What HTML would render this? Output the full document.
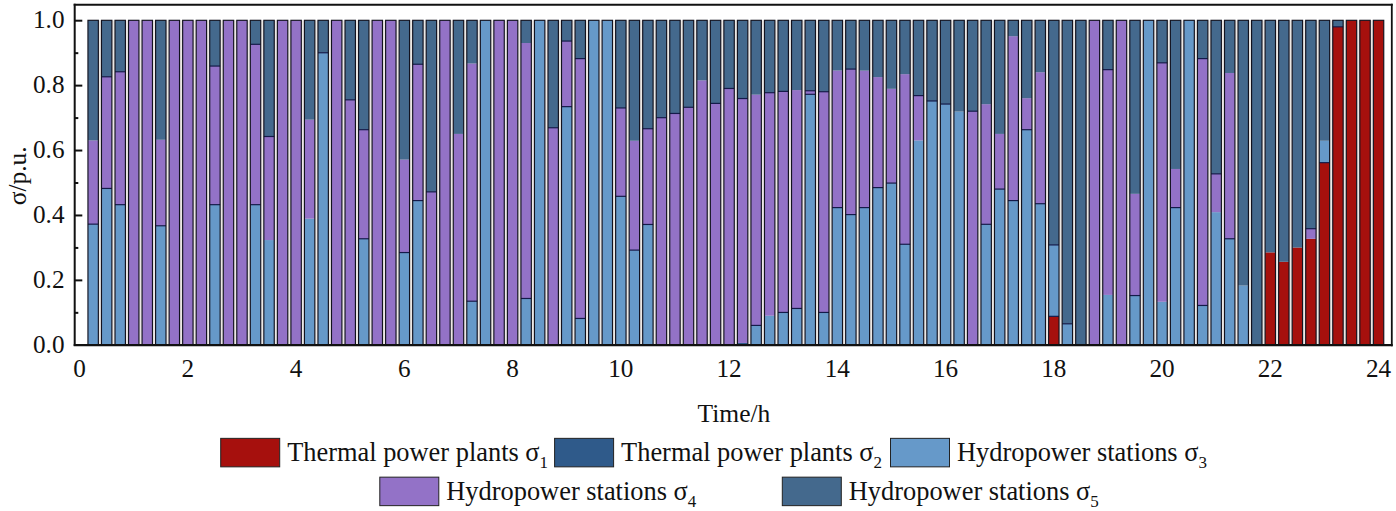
<!DOCTYPE html>
<html><head><meta charset="utf-8"><title>chart</title>
<style>
html,body{margin:0;padding:0;background:#fff;}
svg{display:block}
text{font-family:"Liberation Serif",serif;fill:#111}
.t{font-size:25.2px}
.a{font-size:25.5px}
.l{font-size:26.4px}
</style></head>
<body>
<svg width="1396" height="511" viewBox="0 0 1396 511">
<rect width="1396" height="511" fill="#fff"/>
<g shape-rendering="auto">
<rect x="87.95" y="20.30" width="1295.80" height="324.60" fill="#ebe7e4"/>
<rect x="87.95" y="224.15" width="10.4" height="120.75" fill="#6699c9"/>
<rect x="87.95" y="140.40" width="10.4" height="83.75" fill="#9372c7"/>
<rect x="87.95" y="20.30" width="10.4" height="120.10" fill="#44698d"/>
<line x1="87.95" x2="98.35" y1="224.15" y2="224.15" stroke="#141a4a" stroke-width="1.2"/>
<rect x="87.95" y="20.30" width="10.4" height="324.60" fill="none" stroke="#12121f" stroke-width="1.15" stroke-opacity="1"/>
<rect x="101.48" y="188.44" width="10.4" height="156.46" fill="#6699c9"/>
<rect x="101.48" y="76.78" width="10.4" height="111.66" fill="#9372c7"/>
<rect x="101.48" y="20.30" width="10.4" height="56.48" fill="#44698d"/>
<line x1="101.48" x2="111.88" y1="188.44" y2="188.44" stroke="#141a4a" stroke-width="1.2"/>
<line x1="101.48" x2="111.88" y1="76.78" y2="76.78" stroke="#141a4a" stroke-width="1.2"/>
<rect x="101.48" y="20.30" width="10.4" height="324.60" fill="none" stroke="#12121f" stroke-width="1.15" stroke-opacity="1"/>
<rect x="115.01" y="204.67" width="10.4" height="140.23" fill="#6699c9"/>
<rect x="115.01" y="71.75" width="10.4" height="132.92" fill="#9372c7"/>
<rect x="115.01" y="20.30" width="10.4" height="51.45" fill="#44698d"/>
<line x1="115.01" x2="125.41" y1="204.67" y2="204.67" stroke="#141a4a" stroke-width="1.2"/>
<line x1="115.01" x2="125.41" y1="71.75" y2="71.75" stroke="#141a4a" stroke-width="1.2"/>
<rect x="115.01" y="20.30" width="10.4" height="324.60" fill="none" stroke="#12121f" stroke-width="1.15" stroke-opacity="1"/>
<rect x="128.54" y="20.30" width="10.4" height="324.60" fill="#9372c7"/>
<rect x="128.54" y="20.30" width="10.4" height="324.60" fill="none" stroke="#12121f" stroke-width="1.15" stroke-opacity="1"/>
<rect x="142.07" y="20.30" width="10.4" height="324.60" fill="#9372c7"/>
<rect x="142.07" y="20.30" width="10.4" height="324.60" fill="none" stroke="#12121f" stroke-width="1.15" stroke-opacity="1"/>
<rect x="155.60" y="225.77" width="10.4" height="119.13" fill="#6699c9"/>
<rect x="155.60" y="139.75" width="10.4" height="86.02" fill="#9372c7"/>
<rect x="155.60" y="20.30" width="10.4" height="119.45" fill="#44698d"/>
<line x1="155.60" x2="166.00" y1="225.77" y2="225.77" stroke="#141a4a" stroke-width="1.2"/>
<rect x="155.60" y="20.30" width="10.4" height="324.60" fill="none" stroke="#12121f" stroke-width="1.15" stroke-opacity="1"/>
<rect x="169.13" y="20.30" width="10.4" height="324.60" fill="#9372c7"/>
<rect x="169.13" y="20.30" width="10.4" height="324.60" fill="none" stroke="#12121f" stroke-width="1.15" stroke-opacity="1"/>
<rect x="182.66" y="20.30" width="10.4" height="324.60" fill="#9372c7"/>
<rect x="182.66" y="20.30" width="10.4" height="324.60" fill="none" stroke="#12121f" stroke-width="1.15" stroke-opacity="1"/>
<rect x="196.19" y="20.30" width="10.4" height="324.60" fill="#9372c7"/>
<rect x="196.19" y="20.30" width="10.4" height="324.60" fill="none" stroke="#12121f" stroke-width="1.15" stroke-opacity="1"/>
<rect x="209.73" y="204.67" width="10.4" height="140.23" fill="#6699c9"/>
<rect x="209.73" y="66.07" width="10.4" height="138.60" fill="#9372c7"/>
<rect x="209.73" y="20.30" width="10.4" height="45.77" fill="#44698d"/>
<line x1="209.73" x2="220.13" y1="204.67" y2="204.67" stroke="#141a4a" stroke-width="1.2"/>
<line x1="209.73" x2="220.13" y1="66.07" y2="66.07" stroke="#141a4a" stroke-width="1.2"/>
<rect x="209.73" y="20.30" width="10.4" height="324.60" fill="none" stroke="#12121f" stroke-width="1.15" stroke-opacity="1"/>
<rect x="223.26" y="20.30" width="10.4" height="324.60" fill="#9372c7"/>
<rect x="223.26" y="20.30" width="10.4" height="324.60" fill="none" stroke="#12121f" stroke-width="1.15" stroke-opacity="1"/>
<rect x="236.79" y="20.30" width="10.4" height="324.60" fill="#9372c7"/>
<rect x="236.79" y="20.30" width="10.4" height="324.60" fill="none" stroke="#12121f" stroke-width="1.15" stroke-opacity="1"/>
<rect x="250.32" y="204.67" width="10.4" height="140.23" fill="#6699c9"/>
<rect x="250.32" y="44.32" width="10.4" height="160.35" fill="#9372c7"/>
<rect x="250.32" y="20.30" width="10.4" height="24.02" fill="#44698d"/>
<line x1="250.32" x2="260.72" y1="204.67" y2="204.67" stroke="#141a4a" stroke-width="1.2"/>
<line x1="250.32" x2="260.72" y1="44.32" y2="44.32" stroke="#141a4a" stroke-width="1.2"/>
<rect x="250.32" y="20.30" width="10.4" height="324.60" fill="none" stroke="#12121f" stroke-width="1.15" stroke-opacity="1"/>
<rect x="263.85" y="240.05" width="10.4" height="104.85" fill="#6699c9"/>
<rect x="263.85" y="136.51" width="10.4" height="103.55" fill="#9372c7"/>
<rect x="263.85" y="20.30" width="10.4" height="116.21" fill="#44698d"/>
<line x1="263.85" x2="274.25" y1="136.51" y2="136.51" stroke="#141a4a" stroke-width="1.2"/>
<rect x="263.85" y="20.30" width="10.4" height="324.60" fill="none" stroke="#12121f" stroke-width="1.15" stroke-opacity="1"/>
<rect x="277.38" y="20.30" width="10.4" height="324.60" fill="#9372c7"/>
<rect x="277.38" y="20.30" width="10.4" height="324.60" fill="none" stroke="#12121f" stroke-width="1.15" stroke-opacity="1"/>
<rect x="290.91" y="20.30" width="10.4" height="324.60" fill="#9372c7"/>
<rect x="290.91" y="20.30" width="10.4" height="324.60" fill="none" stroke="#12121f" stroke-width="1.15" stroke-opacity="1"/>
<rect x="304.44" y="218.63" width="10.4" height="126.27" fill="#6699c9"/>
<rect x="304.44" y="119.63" width="10.4" height="99.00" fill="#9372c7"/>
<rect x="304.44" y="20.30" width="10.4" height="99.33" fill="#44698d"/>
<rect x="304.44" y="20.30" width="10.4" height="324.60" fill="none" stroke="#12121f" stroke-width="1.15" stroke-opacity="1"/>
<rect x="317.97" y="52.76" width="10.4" height="292.14" fill="#6699c9"/>
<rect x="317.97" y="20.30" width="10.4" height="32.46" fill="#44698d"/>
<line x1="317.97" x2="328.37" y1="52.76" y2="52.76" stroke="#141a4a" stroke-width="1.2"/>
<rect x="317.97" y="20.30" width="10.4" height="324.60" fill="none" stroke="#12121f" stroke-width="1.15" stroke-opacity="1"/>
<rect x="331.50" y="20.30" width="10.4" height="324.60" fill="#9372c7"/>
<rect x="331.50" y="20.30" width="10.4" height="324.60" fill="none" stroke="#12121f" stroke-width="1.15" stroke-opacity="1"/>
<rect x="345.03" y="99.83" width="10.4" height="245.07" fill="#9372c7"/>
<rect x="345.03" y="20.30" width="10.4" height="79.53" fill="#44698d"/>
<line x1="345.03" x2="355.43" y1="99.83" y2="99.83" stroke="#141a4a" stroke-width="1.2"/>
<rect x="345.03" y="20.30" width="10.4" height="324.60" fill="none" stroke="#12121f" stroke-width="1.15" stroke-opacity="1"/>
<rect x="358.56" y="238.76" width="10.4" height="106.14" fill="#6699c9"/>
<rect x="358.56" y="129.69" width="10.4" height="109.07" fill="#9372c7"/>
<rect x="358.56" y="20.30" width="10.4" height="109.39" fill="#44698d"/>
<line x1="358.56" x2="368.96" y1="238.76" y2="238.76" stroke="#141a4a" stroke-width="1.2"/>
<line x1="358.56" x2="368.96" y1="129.69" y2="129.69" stroke="#141a4a" stroke-width="1.2"/>
<rect x="358.56" y="20.30" width="10.4" height="324.60" fill="none" stroke="#12121f" stroke-width="1.15" stroke-opacity="1"/>
<rect x="372.09" y="20.30" width="10.4" height="324.60" fill="#9372c7"/>
<rect x="372.09" y="20.30" width="10.4" height="324.60" fill="none" stroke="#12121f" stroke-width="1.15" stroke-opacity="1"/>
<rect x="385.62" y="20.30" width="10.4" height="324.60" fill="#9372c7"/>
<rect x="385.62" y="20.30" width="10.4" height="324.60" fill="none" stroke="#12121f" stroke-width="1.15" stroke-opacity="1"/>
<rect x="399.15" y="252.55" width="10.4" height="92.35" fill="#6699c9"/>
<rect x="399.15" y="159.55" width="10.4" height="93.00" fill="#9372c7"/>
<rect x="399.15" y="20.30" width="10.4" height="139.25" fill="#44698d"/>
<line x1="399.15" x2="409.55" y1="252.55" y2="252.55" stroke="#141a4a" stroke-width="1.2"/>
<rect x="399.15" y="20.30" width="10.4" height="324.60" fill="none" stroke="#12121f" stroke-width="1.15" stroke-opacity="1"/>
<rect x="412.68" y="200.58" width="10.4" height="144.32" fill="#6699c9"/>
<rect x="412.68" y="64.25" width="10.4" height="136.33" fill="#9372c7"/>
<rect x="412.68" y="20.30" width="10.4" height="43.95" fill="#44698d"/>
<line x1="412.68" x2="423.08" y1="200.58" y2="200.58" stroke="#141a4a" stroke-width="1.2"/>
<line x1="412.68" x2="423.08" y1="64.25" y2="64.25" stroke="#141a4a" stroke-width="1.2"/>
<rect x="412.68" y="20.30" width="10.4" height="324.60" fill="none" stroke="#12121f" stroke-width="1.15" stroke-opacity="1"/>
<rect x="426.21" y="191.85" width="10.4" height="153.05" fill="#9372c7"/>
<rect x="426.21" y="20.30" width="10.4" height="171.55" fill="#44698d"/>
<line x1="426.21" x2="436.61" y1="191.85" y2="191.85" stroke="#141a4a" stroke-width="1.2"/>
<rect x="426.21" y="20.30" width="10.4" height="324.60" fill="none" stroke="#12121f" stroke-width="1.15" stroke-opacity="1"/>
<rect x="439.74" y="20.30" width="10.4" height="324.60" fill="#9372c7"/>
<rect x="439.74" y="20.30" width="10.4" height="324.60" fill="none" stroke="#12121f" stroke-width="1.15" stroke-opacity="1"/>
<rect x="453.27" y="133.91" width="10.4" height="210.99" fill="#9372c7"/>
<rect x="453.27" y="20.30" width="10.4" height="113.61" fill="#44698d"/>
<rect x="453.27" y="20.30" width="10.4" height="324.60" fill="none" stroke="#12121f" stroke-width="1.15" stroke-opacity="1"/>
<rect x="466.80" y="301.21" width="10.4" height="43.69" fill="#6699c9"/>
<rect x="466.80" y="63.47" width="10.4" height="237.74" fill="#9372c7"/>
<rect x="466.80" y="20.30" width="10.4" height="43.17" fill="#44698d"/>
<line x1="466.80" x2="477.20" y1="301.21" y2="301.21" stroke="#141a4a" stroke-width="1.2"/>
<rect x="466.80" y="20.30" width="10.4" height="324.60" fill="none" stroke="#12121f" stroke-width="1.15" stroke-opacity="1"/>
<rect x="480.34" y="20.30" width="10.4" height="324.60" fill="#6699c9"/>
<rect x="480.34" y="20.30" width="10.4" height="324.60" fill="none" stroke="#12121f" stroke-width="1.15" stroke-opacity="1"/>
<rect x="493.87" y="20.30" width="10.4" height="324.60" fill="#9372c7"/>
<rect x="493.87" y="20.30" width="10.4" height="324.60" fill="none" stroke="#12121f" stroke-width="1.15" stroke-opacity="1"/>
<rect x="507.40" y="20.30" width="10.4" height="324.60" fill="#9372c7"/>
<rect x="507.40" y="20.30" width="10.4" height="324.60" fill="none" stroke="#12121f" stroke-width="1.15" stroke-opacity="1"/>
<rect x="520.93" y="298.48" width="10.4" height="46.42" fill="#6699c9"/>
<rect x="520.93" y="43.02" width="10.4" height="255.46" fill="#9372c7"/>
<rect x="520.93" y="20.30" width="10.4" height="22.72" fill="#44698d"/>
<line x1="520.93" x2="531.33" y1="298.48" y2="298.48" stroke="#141a4a" stroke-width="1.2"/>
<rect x="520.93" y="20.30" width="10.4" height="324.60" fill="none" stroke="#12121f" stroke-width="1.15" stroke-opacity="1"/>
<rect x="534.46" y="20.30" width="10.4" height="324.60" fill="#6699c9"/>
<rect x="534.46" y="20.30" width="10.4" height="324.60" fill="none" stroke="#12121f" stroke-width="1.15" stroke-opacity="1"/>
<rect x="547.99" y="127.74" width="10.4" height="217.16" fill="#9372c7"/>
<rect x="547.99" y="20.30" width="10.4" height="107.44" fill="#44698d"/>
<line x1="547.99" x2="558.39" y1="127.74" y2="127.74" stroke="#141a4a" stroke-width="1.2"/>
<rect x="547.99" y="20.30" width="10.4" height="324.60" fill="none" stroke="#12121f" stroke-width="1.15" stroke-opacity="1"/>
<rect x="561.52" y="106.64" width="10.4" height="238.26" fill="#6699c9"/>
<rect x="561.52" y="41.07" width="10.4" height="65.57" fill="#9372c7"/>
<rect x="561.52" y="20.30" width="10.4" height="20.77" fill="#44698d"/>
<line x1="561.52" x2="571.92" y1="106.64" y2="106.64" stroke="#141a4a" stroke-width="1.2"/>
<line x1="561.52" x2="571.92" y1="41.07" y2="41.07" stroke="#141a4a" stroke-width="1.2"/>
<rect x="561.52" y="20.30" width="10.4" height="324.60" fill="none" stroke="#12121f" stroke-width="1.15" stroke-opacity="1"/>
<rect x="575.05" y="318.45" width="10.4" height="26.45" fill="#6699c9"/>
<rect x="575.05" y="58.60" width="10.4" height="259.84" fill="#9372c7"/>
<rect x="575.05" y="20.30" width="10.4" height="38.30" fill="#44698d"/>
<line x1="575.05" x2="585.45" y1="318.45" y2="318.45" stroke="#141a4a" stroke-width="1.2"/>
<line x1="575.05" x2="585.45" y1="58.60" y2="58.60" stroke="#141a4a" stroke-width="1.2"/>
<rect x="575.05" y="20.30" width="10.4" height="324.60" fill="none" stroke="#12121f" stroke-width="1.15" stroke-opacity="1"/>
<rect x="588.58" y="20.30" width="10.4" height="324.60" fill="#6699c9"/>
<rect x="588.58" y="20.30" width="10.4" height="324.60" fill="none" stroke="#12121f" stroke-width="1.15" stroke-opacity="1"/>
<rect x="602.11" y="20.30" width="10.4" height="324.60" fill="#6699c9"/>
<rect x="602.11" y="20.30" width="10.4" height="324.60" fill="none" stroke="#12121f" stroke-width="1.15" stroke-opacity="1"/>
<rect x="615.64" y="196.33" width="10.4" height="148.57" fill="#6699c9"/>
<rect x="615.64" y="107.94" width="10.4" height="88.39" fill="#9372c7"/>
<rect x="615.64" y="20.30" width="10.4" height="87.64" fill="#44698d"/>
<line x1="615.64" x2="626.04" y1="196.33" y2="196.33" stroke="#141a4a" stroke-width="1.2"/>
<line x1="615.64" x2="626.04" y1="107.94" y2="107.94" stroke="#141a4a" stroke-width="1.2"/>
<rect x="615.64" y="20.30" width="10.4" height="324.60" fill="none" stroke="#12121f" stroke-width="1.15" stroke-opacity="1"/>
<rect x="629.17" y="250.12" width="10.4" height="94.78" fill="#6699c9"/>
<rect x="629.17" y="140.73" width="10.4" height="109.39" fill="#9372c7"/>
<rect x="629.17" y="20.30" width="10.4" height="120.43" fill="#44698d"/>
<line x1="629.17" x2="639.57" y1="250.12" y2="250.12" stroke="#141a4a" stroke-width="1.2"/>
<rect x="629.17" y="20.30" width="10.4" height="324.60" fill="none" stroke="#12121f" stroke-width="1.15" stroke-opacity="1"/>
<rect x="642.70" y="224.47" width="10.4" height="120.43" fill="#6699c9"/>
<rect x="642.70" y="128.72" width="10.4" height="95.76" fill="#9372c7"/>
<rect x="642.70" y="20.30" width="10.4" height="108.42" fill="#44698d"/>
<line x1="642.70" x2="653.10" y1="224.47" y2="224.47" stroke="#141a4a" stroke-width="1.2"/>
<line x1="642.70" x2="653.10" y1="128.72" y2="128.72" stroke="#141a4a" stroke-width="1.2"/>
<rect x="642.70" y="20.30" width="10.4" height="324.60" fill="none" stroke="#12121f" stroke-width="1.15" stroke-opacity="1"/>
<rect x="656.23" y="117.68" width="10.4" height="227.22" fill="#9372c7"/>
<rect x="656.23" y="20.30" width="10.4" height="97.38" fill="#44698d"/>
<line x1="656.23" x2="666.63" y1="117.68" y2="117.68" stroke="#141a4a" stroke-width="1.2"/>
<rect x="656.23" y="20.30" width="10.4" height="324.60" fill="none" stroke="#12121f" stroke-width="1.15" stroke-opacity="1"/>
<rect x="669.76" y="113.46" width="10.4" height="231.44" fill="#9372c7"/>
<rect x="669.76" y="20.30" width="10.4" height="93.16" fill="#44698d"/>
<line x1="669.76" x2="680.16" y1="113.46" y2="113.46" stroke="#141a4a" stroke-width="1.2"/>
<rect x="669.76" y="20.30" width="10.4" height="324.60" fill="none" stroke="#12121f" stroke-width="1.15" stroke-opacity="1"/>
<rect x="683.29" y="107.29" width="10.4" height="237.61" fill="#9372c7"/>
<rect x="683.29" y="20.30" width="10.4" height="86.99" fill="#44698d"/>
<line x1="683.29" x2="693.69" y1="107.29" y2="107.29" stroke="#141a4a" stroke-width="1.2"/>
<rect x="683.29" y="20.30" width="10.4" height="324.60" fill="none" stroke="#12121f" stroke-width="1.15" stroke-opacity="1"/>
<rect x="696.82" y="80.35" width="10.4" height="264.55" fill="#9372c7"/>
<rect x="696.82" y="20.30" width="10.4" height="60.05" fill="#44698d"/>
<rect x="696.82" y="20.30" width="10.4" height="324.60" fill="none" stroke="#12121f" stroke-width="1.15" stroke-opacity="1"/>
<rect x="710.35" y="103.40" width="10.4" height="241.50" fill="#9372c7"/>
<rect x="710.35" y="20.30" width="10.4" height="83.10" fill="#44698d"/>
<line x1="710.35" x2="720.75" y1="103.40" y2="103.40" stroke="#141a4a" stroke-width="1.2"/>
<rect x="710.35" y="20.30" width="10.4" height="324.60" fill="none" stroke="#12121f" stroke-width="1.15" stroke-opacity="1"/>
<rect x="723.88" y="88.47" width="10.4" height="256.43" fill="#9372c7"/>
<rect x="723.88" y="20.30" width="10.4" height="68.17" fill="#44698d"/>
<line x1="723.88" x2="734.28" y1="88.47" y2="88.47" stroke="#141a4a" stroke-width="1.2"/>
<rect x="723.88" y="20.30" width="10.4" height="324.60" fill="none" stroke="#12121f" stroke-width="1.15" stroke-opacity="1"/>
<rect x="737.41" y="342.95" width="10.4" height="1.95" fill="#2f5a8a"/>
<rect x="737.41" y="98.53" width="10.4" height="244.42" fill="#9372c7"/>
<rect x="737.41" y="20.30" width="10.4" height="78.23" fill="#44698d"/>
<line x1="737.41" x2="747.81" y1="98.53" y2="98.53" stroke="#141a4a" stroke-width="1.2"/>
<rect x="737.41" y="20.30" width="10.4" height="324.60" fill="none" stroke="#12121f" stroke-width="1.15" stroke-opacity="1"/>
<rect x="750.94" y="325.42" width="10.4" height="19.48" fill="#6699c9"/>
<rect x="750.94" y="94.63" width="10.4" height="230.79" fill="#9372c7"/>
<rect x="750.94" y="20.30" width="10.4" height="74.33" fill="#44698d"/>
<line x1="750.94" x2="761.34" y1="325.42" y2="325.42" stroke="#141a4a" stroke-width="1.2"/>
<rect x="750.94" y="20.30" width="10.4" height="324.60" fill="none" stroke="#12121f" stroke-width="1.15" stroke-opacity="1"/>
<rect x="764.48" y="315.69" width="10.4" height="29.21" fill="#6699c9"/>
<rect x="764.48" y="92.69" width="10.4" height="223.00" fill="#9372c7"/>
<rect x="764.48" y="20.30" width="10.4" height="72.39" fill="#44698d"/>
<line x1="764.48" x2="774.88" y1="92.69" y2="92.69" stroke="#141a4a" stroke-width="1.2"/>
<rect x="764.48" y="20.30" width="10.4" height="324.60" fill="none" stroke="#12121f" stroke-width="1.15" stroke-opacity="1"/>
<rect x="778.01" y="312.44" width="10.4" height="32.46" fill="#6699c9"/>
<rect x="778.01" y="91.39" width="10.4" height="221.05" fill="#9372c7"/>
<rect x="778.01" y="20.30" width="10.4" height="71.09" fill="#44698d"/>
<line x1="778.01" x2="788.41" y1="312.44" y2="312.44" stroke="#141a4a" stroke-width="1.2"/>
<line x1="778.01" x2="788.41" y1="91.39" y2="91.39" stroke="#141a4a" stroke-width="1.2"/>
<rect x="778.01" y="20.30" width="10.4" height="324.60" fill="none" stroke="#12121f" stroke-width="1.15" stroke-opacity="1"/>
<rect x="791.54" y="308.45" width="10.4" height="36.45" fill="#6699c9"/>
<rect x="791.54" y="90.09" width="10.4" height="218.36" fill="#9372c7"/>
<rect x="791.54" y="20.30" width="10.4" height="69.79" fill="#44698d"/>
<line x1="791.54" x2="801.94" y1="308.45" y2="308.45" stroke="#141a4a" stroke-width="1.2"/>
<rect x="791.54" y="20.30" width="10.4" height="324.60" fill="none" stroke="#12121f" stroke-width="1.15" stroke-opacity="1"/>
<rect x="805.07" y="94.31" width="10.4" height="250.59" fill="#6699c9"/>
<rect x="805.07" y="90.74" width="10.4" height="3.57" fill="#9372c7"/>
<rect x="805.07" y="20.30" width="10.4" height="70.44" fill="#44698d"/>
<line x1="805.07" x2="815.47" y1="94.31" y2="94.31" stroke="#141a4a" stroke-width="1.2"/>
<line x1="805.07" x2="815.47" y1="90.74" y2="90.74" stroke="#141a4a" stroke-width="1.2"/>
<rect x="805.07" y="20.30" width="10.4" height="324.60" fill="none" stroke="#12121f" stroke-width="1.15" stroke-opacity="1"/>
<rect x="818.60" y="312.44" width="10.4" height="32.46" fill="#6699c9"/>
<rect x="818.60" y="91.71" width="10.4" height="220.73" fill="#9372c7"/>
<rect x="818.60" y="20.30" width="10.4" height="71.41" fill="#44698d"/>
<line x1="818.60" x2="829.00" y1="312.44" y2="312.44" stroke="#141a4a" stroke-width="1.2"/>
<line x1="818.60" x2="829.00" y1="91.71" y2="91.71" stroke="#141a4a" stroke-width="1.2"/>
<rect x="818.60" y="20.30" width="10.4" height="324.60" fill="none" stroke="#12121f" stroke-width="1.15" stroke-opacity="1"/>
<rect x="832.13" y="207.59" width="10.4" height="137.31" fill="#6699c9"/>
<rect x="832.13" y="70.48" width="10.4" height="137.11" fill="#9372c7"/>
<rect x="832.13" y="20.30" width="10.4" height="50.18" fill="#44698d"/>
<line x1="832.13" x2="842.53" y1="207.59" y2="207.59" stroke="#141a4a" stroke-width="1.2"/>
<rect x="832.13" y="20.30" width="10.4" height="324.60" fill="none" stroke="#12121f" stroke-width="1.15" stroke-opacity="1"/>
<rect x="845.66" y="214.57" width="10.4" height="130.33" fill="#6699c9"/>
<rect x="845.66" y="69.09" width="10.4" height="145.49" fill="#9372c7"/>
<rect x="845.66" y="20.30" width="10.4" height="48.79" fill="#44698d"/>
<line x1="845.66" x2="856.06" y1="214.57" y2="214.57" stroke="#141a4a" stroke-width="1.2"/>
<line x1="845.66" x2="856.06" y1="69.09" y2="69.09" stroke="#141a4a" stroke-width="1.2"/>
<rect x="845.66" y="20.30" width="10.4" height="324.60" fill="none" stroke="#12121f" stroke-width="1.15" stroke-opacity="1"/>
<rect x="859.19" y="207.59" width="10.4" height="137.31" fill="#6699c9"/>
<rect x="859.19" y="70.61" width="10.4" height="136.98" fill="#9372c7"/>
<rect x="859.19" y="20.30" width="10.4" height="50.31" fill="#44698d"/>
<line x1="859.19" x2="869.59" y1="207.59" y2="207.59" stroke="#141a4a" stroke-width="1.2"/>
<rect x="859.19" y="20.30" width="10.4" height="324.60" fill="none" stroke="#12121f" stroke-width="1.15" stroke-opacity="1"/>
<rect x="872.72" y="187.60" width="10.4" height="157.30" fill="#6699c9"/>
<rect x="872.72" y="77.11" width="10.4" height="110.49" fill="#9372c7"/>
<rect x="872.72" y="20.30" width="10.4" height="56.81" fill="#44698d"/>
<line x1="872.72" x2="883.12" y1="187.60" y2="187.60" stroke="#141a4a" stroke-width="1.2"/>
<rect x="872.72" y="20.30" width="10.4" height="324.60" fill="none" stroke="#12121f" stroke-width="1.15" stroke-opacity="1"/>
<rect x="886.25" y="183.09" width="10.4" height="161.81" fill="#6699c9"/>
<rect x="886.25" y="88.79" width="10.4" height="94.30" fill="#9372c7"/>
<rect x="886.25" y="20.30" width="10.4" height="68.49" fill="#44698d"/>
<line x1="886.25" x2="896.65" y1="183.09" y2="183.09" stroke="#141a4a" stroke-width="1.2"/>
<rect x="886.25" y="20.30" width="10.4" height="324.60" fill="none" stroke="#12121f" stroke-width="1.15" stroke-opacity="1"/>
<rect x="899.78" y="244.27" width="10.4" height="100.63" fill="#6699c9"/>
<rect x="899.78" y="74.18" width="10.4" height="170.09" fill="#9372c7"/>
<rect x="899.78" y="20.30" width="10.4" height="53.88" fill="#44698d"/>
<line x1="899.78" x2="910.18" y1="244.27" y2="244.27" stroke="#141a4a" stroke-width="1.2"/>
<rect x="899.78" y="20.30" width="10.4" height="324.60" fill="none" stroke="#12121f" stroke-width="1.15" stroke-opacity="1"/>
<rect x="913.31" y="140.40" width="10.4" height="204.50" fill="#6699c9"/>
<rect x="913.31" y="95.61" width="10.4" height="44.79" fill="#9372c7"/>
<rect x="913.31" y="20.30" width="10.4" height="75.31" fill="#44698d"/>
<line x1="913.31" x2="923.71" y1="95.61" y2="95.61" stroke="#141a4a" stroke-width="1.2"/>
<rect x="913.31" y="20.30" width="10.4" height="324.60" fill="none" stroke="#12121f" stroke-width="1.15" stroke-opacity="1"/>
<rect x="926.84" y="100.96" width="10.4" height="243.94" fill="#6699c9"/>
<rect x="926.84" y="20.30" width="10.4" height="80.66" fill="#44698d"/>
<line x1="926.84" x2="937.24" y1="100.96" y2="100.96" stroke="#141a4a" stroke-width="1.2"/>
<rect x="926.84" y="20.30" width="10.4" height="324.60" fill="none" stroke="#12121f" stroke-width="1.15" stroke-opacity="1"/>
<rect x="940.37" y="104.05" width="10.4" height="240.85" fill="#6699c9"/>
<rect x="940.37" y="20.30" width="10.4" height="83.75" fill="#44698d"/>
<line x1="940.37" x2="950.77" y1="104.05" y2="104.05" stroke="#141a4a" stroke-width="1.2"/>
<rect x="940.37" y="20.30" width="10.4" height="324.60" fill="none" stroke="#12121f" stroke-width="1.15" stroke-opacity="1"/>
<rect x="953.90" y="111.51" width="10.4" height="233.39" fill="#6699c9"/>
<rect x="953.90" y="20.30" width="10.4" height="91.21" fill="#44698d"/>
<rect x="953.90" y="20.30" width="10.4" height="324.60" fill="none" stroke="#12121f" stroke-width="1.15" stroke-opacity="1"/>
<rect x="967.43" y="111.19" width="10.4" height="233.71" fill="#9372c7"/>
<rect x="967.43" y="20.30" width="10.4" height="90.89" fill="#44698d"/>
<line x1="967.43" x2="977.83" y1="111.19" y2="111.19" stroke="#141a4a" stroke-width="1.2"/>
<rect x="967.43" y="20.30" width="10.4" height="324.60" fill="none" stroke="#12121f" stroke-width="1.15" stroke-opacity="1"/>
<rect x="980.96" y="224.31" width="10.4" height="120.59" fill="#6699c9"/>
<rect x="980.96" y="104.21" width="10.4" height="120.10" fill="#9372c7"/>
<rect x="980.96" y="20.30" width="10.4" height="83.91" fill="#44698d"/>
<line x1="980.96" x2="991.36" y1="224.31" y2="224.31" stroke="#141a4a" stroke-width="1.2"/>
<rect x="980.96" y="20.30" width="10.4" height="324.60" fill="none" stroke="#12121f" stroke-width="1.15" stroke-opacity="1"/>
<rect x="994.49" y="189.09" width="10.4" height="155.81" fill="#6699c9"/>
<rect x="994.49" y="133.91" width="10.4" height="55.18" fill="#9372c7"/>
<rect x="994.49" y="20.30" width="10.4" height="113.61" fill="#44698d"/>
<line x1="994.49" x2="1004.89" y1="189.09" y2="189.09" stroke="#141a4a" stroke-width="1.2"/>
<rect x="994.49" y="20.30" width="10.4" height="324.60" fill="none" stroke="#12121f" stroke-width="1.15" stroke-opacity="1"/>
<rect x="1008.02" y="200.58" width="10.4" height="144.32" fill="#6699c9"/>
<rect x="1008.02" y="36.21" width="10.4" height="164.38" fill="#9372c7"/>
<rect x="1008.02" y="20.30" width="10.4" height="15.91" fill="#44698d"/>
<line x1="1008.02" x2="1018.42" y1="200.58" y2="200.58" stroke="#141a4a" stroke-width="1.2"/>
<rect x="1008.02" y="20.30" width="10.4" height="324.60" fill="none" stroke="#12121f" stroke-width="1.15" stroke-opacity="1"/>
<rect x="1021.56" y="129.69" width="10.4" height="215.21" fill="#6699c9"/>
<rect x="1021.56" y="98.20" width="10.4" height="31.49" fill="#9372c7"/>
<rect x="1021.56" y="20.30" width="10.4" height="77.90" fill="#44698d"/>
<line x1="1021.56" x2="1031.96" y1="129.69" y2="129.69" stroke="#141a4a" stroke-width="1.2"/>
<rect x="1021.56" y="20.30" width="10.4" height="324.60" fill="none" stroke="#12121f" stroke-width="1.15" stroke-opacity="1"/>
<rect x="1035.09" y="203.70" width="10.4" height="141.20" fill="#6699c9"/>
<rect x="1035.09" y="72.24" width="10.4" height="131.46" fill="#9372c7"/>
<rect x="1035.09" y="20.30" width="10.4" height="51.94" fill="#44698d"/>
<line x1="1035.09" x2="1045.49" y1="203.70" y2="203.70" stroke="#141a4a" stroke-width="1.2"/>
<rect x="1035.09" y="20.30" width="10.4" height="324.60" fill="none" stroke="#12121f" stroke-width="1.15" stroke-opacity="1"/>
<rect x="1048.62" y="316.34" width="10.4" height="28.56" fill="#a6100d"/>
<rect x="1048.62" y="244.92" width="10.4" height="71.41" fill="#6699c9"/>
<rect x="1048.62" y="20.30" width="10.4" height="224.62" fill="#44698d"/>
<line x1="1048.62" x2="1059.02" y1="316.34" y2="316.34" stroke="#141a4a" stroke-width="1.2"/>
<line x1="1048.62" x2="1059.02" y1="244.92" y2="244.92" stroke="#141a4a" stroke-width="1.2"/>
<rect x="1048.62" y="20.30" width="10.4" height="324.60" fill="none" stroke="#12121f" stroke-width="1.15" stroke-opacity="1"/>
<rect x="1062.15" y="323.80" width="10.4" height="21.10" fill="#6699c9"/>
<rect x="1062.15" y="20.30" width="10.4" height="303.50" fill="#44698d"/>
<line x1="1062.15" x2="1072.55" y1="323.80" y2="323.80" stroke="#141a4a" stroke-width="1.2"/>
<rect x="1062.15" y="20.30" width="10.4" height="324.60" fill="none" stroke="#12121f" stroke-width="1.15" stroke-opacity="1"/>
<rect x="1075.68" y="20.30" width="10.4" height="324.60" fill="#44698d"/>
<rect x="1075.68" y="20.30" width="10.4" height="324.60" fill="none" stroke="#12121f" stroke-width="1.15" stroke-opacity="1"/>
<rect x="1089.21" y="20.30" width="10.4" height="324.60" fill="#9372c7"/>
<rect x="1089.21" y="20.30" width="10.4" height="324.60" fill="none" stroke="#12121f" stroke-width="1.15" stroke-opacity="1"/>
<rect x="1102.74" y="294.91" width="10.4" height="49.99" fill="#6699c9"/>
<rect x="1102.74" y="69.64" width="10.4" height="225.27" fill="#9372c7"/>
<rect x="1102.74" y="20.30" width="10.4" height="49.34" fill="#44698d"/>
<line x1="1102.74" x2="1113.14" y1="69.64" y2="69.64" stroke="#141a4a" stroke-width="1.2"/>
<rect x="1102.74" y="20.30" width="10.4" height="324.60" fill="none" stroke="#12121f" stroke-width="1.15" stroke-opacity="1"/>
<rect x="1116.27" y="20.30" width="10.4" height="324.60" fill="#9372c7"/>
<rect x="1116.27" y="20.30" width="10.4" height="324.60" fill="none" stroke="#12121f" stroke-width="1.15" stroke-opacity="1"/>
<rect x="1129.80" y="295.56" width="10.4" height="49.34" fill="#6699c9"/>
<rect x="1129.80" y="193.83" width="10.4" height="101.73" fill="#9372c7"/>
<rect x="1129.80" y="20.30" width="10.4" height="173.53" fill="#44698d"/>
<line x1="1129.80" x2="1140.20" y1="295.56" y2="295.56" stroke="#141a4a" stroke-width="1.2"/>
<rect x="1129.80" y="20.30" width="10.4" height="324.60" fill="none" stroke="#12121f" stroke-width="1.15" stroke-opacity="1"/>
<rect x="1143.33" y="20.30" width="10.4" height="324.60" fill="#6699c9"/>
<rect x="1143.33" y="20.30" width="10.4" height="324.60" fill="none" stroke="#12121f" stroke-width="1.15" stroke-opacity="1"/>
<rect x="1156.86" y="301.73" width="10.4" height="43.17" fill="#6699c9"/>
<rect x="1156.86" y="62.82" width="10.4" height="238.91" fill="#9372c7"/>
<rect x="1156.86" y="20.30" width="10.4" height="42.52" fill="#44698d"/>
<line x1="1156.86" x2="1167.26" y1="62.82" y2="62.82" stroke="#141a4a" stroke-width="1.2"/>
<rect x="1156.86" y="20.30" width="10.4" height="324.60" fill="none" stroke="#12121f" stroke-width="1.15" stroke-opacity="1"/>
<rect x="1170.39" y="207.59" width="10.4" height="137.31" fill="#6699c9"/>
<rect x="1170.39" y="168.97" width="10.4" height="38.63" fill="#9372c7"/>
<rect x="1170.39" y="20.30" width="10.4" height="148.67" fill="#44698d"/>
<line x1="1170.39" x2="1180.79" y1="207.59" y2="207.59" stroke="#141a4a" stroke-width="1.2"/>
<rect x="1170.39" y="20.30" width="10.4" height="324.60" fill="none" stroke="#12121f" stroke-width="1.15" stroke-opacity="1"/>
<rect x="1183.92" y="20.30" width="10.4" height="324.60" fill="#6699c9"/>
<rect x="1183.92" y="20.30" width="10.4" height="324.60" fill="none" stroke="#12121f" stroke-width="1.15" stroke-opacity="1"/>
<rect x="1197.45" y="305.46" width="10.4" height="39.44" fill="#6699c9"/>
<rect x="1197.45" y="58.60" width="10.4" height="246.86" fill="#9372c7"/>
<rect x="1197.45" y="20.30" width="10.4" height="38.30" fill="#44698d"/>
<line x1="1197.45" x2="1207.85" y1="305.46" y2="305.46" stroke="#141a4a" stroke-width="1.2"/>
<line x1="1197.45" x2="1207.85" y1="58.60" y2="58.60" stroke="#141a4a" stroke-width="1.2"/>
<rect x="1197.45" y="20.30" width="10.4" height="324.60" fill="none" stroke="#12121f" stroke-width="1.15" stroke-opacity="1"/>
<rect x="1210.98" y="212.14" width="10.4" height="132.76" fill="#6699c9"/>
<rect x="1210.98" y="173.84" width="10.4" height="38.30" fill="#9372c7"/>
<rect x="1210.98" y="20.30" width="10.4" height="153.54" fill="#44698d"/>
<line x1="1210.98" x2="1221.38" y1="173.84" y2="173.84" stroke="#141a4a" stroke-width="1.2"/>
<rect x="1210.98" y="20.30" width="10.4" height="324.60" fill="none" stroke="#12121f" stroke-width="1.15" stroke-opacity="1"/>
<rect x="1224.51" y="238.76" width="10.4" height="106.14" fill="#6699c9"/>
<rect x="1224.51" y="72.98" width="10.4" height="165.77" fill="#9372c7"/>
<rect x="1224.51" y="20.30" width="10.4" height="52.68" fill="#44698d"/>
<line x1="1224.51" x2="1234.91" y1="238.76" y2="238.76" stroke="#141a4a" stroke-width="1.2"/>
<rect x="1224.51" y="20.30" width="10.4" height="324.60" fill="none" stroke="#12121f" stroke-width="1.15" stroke-opacity="1"/>
<rect x="1238.04" y="285.50" width="10.4" height="59.40" fill="#6699c9"/>
<rect x="1238.04" y="20.30" width="10.4" height="265.20" fill="#44698d"/>
<rect x="1238.04" y="20.30" width="10.4" height="324.60" fill="none" stroke="#12121f" stroke-width="1.15" stroke-opacity="1"/>
<rect x="1251.57" y="20.30" width="10.4" height="324.60" fill="#44698d"/>
<rect x="1251.57" y="20.30" width="10.4" height="324.60" fill="none" stroke="#12121f" stroke-width="1.15" stroke-opacity="1"/>
<rect x="1265.10" y="252.39" width="10.4" height="92.51" fill="#a6100d"/>
<rect x="1265.10" y="20.30" width="10.4" height="232.09" fill="#44698d"/>
<rect x="1265.10" y="20.30" width="10.4" height="324.60" fill="none" stroke="#12121f" stroke-width="1.15" stroke-opacity="1"/>
<rect x="1278.63" y="261.80" width="10.4" height="83.10" fill="#a6100d"/>
<rect x="1278.63" y="20.30" width="10.4" height="241.50" fill="#44698d"/>
<rect x="1278.63" y="20.30" width="10.4" height="324.60" fill="none" stroke="#12121f" stroke-width="1.15" stroke-opacity="1"/>
<rect x="1292.16" y="247.52" width="10.4" height="97.38" fill="#a6100d"/>
<rect x="1292.16" y="20.30" width="10.4" height="227.22" fill="#44698d"/>
<rect x="1292.16" y="20.30" width="10.4" height="324.60" fill="none" stroke="#12121f" stroke-width="1.15" stroke-opacity="1"/>
<rect x="1305.70" y="238.76" width="10.4" height="106.14" fill="#a6100d"/>
<rect x="1305.70" y="228.69" width="10.4" height="10.06" fill="#9372c7"/>
<rect x="1305.70" y="20.30" width="10.4" height="208.39" fill="#44698d"/>
<line x1="1305.70" x2="1316.10" y1="228.69" y2="228.69" stroke="#141a4a" stroke-width="1.2"/>
<rect x="1305.70" y="20.30" width="10.4" height="324.60" fill="none" stroke="#12121f" stroke-width="1.15" stroke-opacity="1"/>
<rect x="1319.23" y="162.64" width="10.4" height="182.26" fill="#a6100d"/>
<rect x="1319.23" y="140.73" width="10.4" height="21.91" fill="#6699c9"/>
<rect x="1319.23" y="20.30" width="10.4" height="120.43" fill="#44698d"/>
<line x1="1319.23" x2="1329.63" y1="162.64" y2="162.64" stroke="#141a4a" stroke-width="1.2"/>
<rect x="1319.23" y="20.30" width="10.4" height="324.60" fill="none" stroke="#12121f" stroke-width="1.15" stroke-opacity="1"/>
<rect x="1332.76" y="26.79" width="10.4" height="318.11" fill="#a6100d"/>
<rect x="1332.76" y="20.30" width="10.4" height="6.49" fill="#44698d"/>
<line x1="1332.76" x2="1343.16" y1="26.79" y2="26.79" stroke="#141a4a" stroke-width="1.2"/>
<rect x="1332.76" y="20.30" width="10.4" height="324.60" fill="none" stroke="#12121f" stroke-width="1.15" stroke-opacity="1"/>
<rect x="1346.29" y="20.30" width="10.4" height="324.60" fill="#a6100d"/>
<rect x="1346.29" y="20.30" width="10.4" height="324.60" fill="none" stroke="#12121f" stroke-width="1.15" stroke-opacity="1"/>
<rect x="1359.82" y="20.30" width="10.4" height="324.60" fill="#a6100d"/>
<rect x="1359.82" y="20.30" width="10.4" height="324.60" fill="none" stroke="#12121f" stroke-width="1.15" stroke-opacity="1"/>
<rect x="1373.35" y="20.30" width="10.4" height="324.60" fill="#a6100d"/>
<rect x="1373.35" y="20.30" width="10.4" height="324.60" fill="none" stroke="#12121f" stroke-width="1.15" stroke-opacity="1"/>
</g>
<line x1="73.7" x2="1392.7" y1="4.7" y2="4.7" stroke="#111" stroke-width="2"/>
<line x1="74.7" x2="74.7" y1="3.7" y2="346" stroke="#111" stroke-width="2"/>
<line x1="73.7" x2="1392.7" y1="345.1" y2="345.1" stroke="#111" stroke-width="2.2"/>
<line x1="1391.8" x2="1391.8" y1="3.7" y2="346.2" stroke="#111" stroke-width="1.8"/>
<text x="64.5" y="352.90" text-anchor="end" class="t">0.0</text>
<line x1="75" x2="78.3" y1="312.84" y2="312.84" stroke="#111" stroke-width="2"/>
<line x1="75" x2="82.3" y1="280.38" y2="280.38" stroke="#111" stroke-width="2"/>
<text x="64.5" y="287.98" text-anchor="end" class="t">0.2</text>
<line x1="75" x2="78.3" y1="247.92" y2="247.92" stroke="#111" stroke-width="2"/>
<line x1="75" x2="82.3" y1="215.46" y2="215.46" stroke="#111" stroke-width="2"/>
<text x="64.5" y="223.06" text-anchor="end" class="t">0.4</text>
<line x1="75" x2="78.3" y1="183.00" y2="183.00" stroke="#111" stroke-width="2"/>
<line x1="75" x2="82.3" y1="150.54" y2="150.54" stroke="#111" stroke-width="2"/>
<text x="64.5" y="158.14" text-anchor="end" class="t">0.6</text>
<line x1="75" x2="78.3" y1="118.08" y2="118.08" stroke="#111" stroke-width="2"/>
<line x1="75" x2="82.3" y1="85.62" y2="85.62" stroke="#111" stroke-width="2"/>
<text x="64.5" y="93.22" text-anchor="end" class="t">0.8</text>
<line x1="75" x2="78.3" y1="53.16" y2="53.16" stroke="#111" stroke-width="2"/>
<line x1="75" x2="82.3" y1="20.70" y2="20.70" stroke="#111" stroke-width="2"/>
<text x="64.5" y="28.30" text-anchor="end" class="t">1.0</text>
<text x="79.62" y="377.3" text-anchor="middle" class="t">0</text>
<text x="187.86" y="377.3" text-anchor="middle" class="t">2</text>
<text x="296.10" y="377.3" text-anchor="middle" class="t">4</text>
<text x="404.34" y="377.3" text-anchor="middle" class="t">6</text>
<text x="512.58" y="377.3" text-anchor="middle" class="t">8</text>
<text x="620.82" y="377.3" text-anchor="middle" class="t">10</text>
<text x="729.06" y="377.3" text-anchor="middle" class="t">12</text>
<text x="837.30" y="377.3" text-anchor="middle" class="t">14</text>
<text x="945.54" y="377.3" text-anchor="middle" class="t">16</text>
<text x="1053.78" y="377.3" text-anchor="middle" class="t">18</text>
<text x="1162.02" y="377.3" text-anchor="middle" class="t">20</text>
<text x="1270.26" y="377.3" text-anchor="middle" class="t">22</text>
<text x="1378.50" y="377.3" text-anchor="middle" class="t">24</text>
<text x="734" y="421.6" text-anchor="middle" class="a">Time/h</text>
<text transform="translate(25.6,175.8) rotate(-90)" text-anchor="middle" class="a">σ/p.u.</text>
<rect x="220.7" y="438.35" width="59" height="28.5" fill="#a6100d" stroke="#222" stroke-width="1"/><text x="287.2" y="461.20" class="l">Thermal power plants σ<tspan dy="6.5" font-size="17">1</tspan></text>
<rect x="554.6" y="438.35" width="59" height="28.5" fill="#2f5a8a" stroke="#222" stroke-width="1"/><text x="621.1" y="461.20" class="l">Thermal power plants σ<tspan dy="6.5" font-size="17">2</tspan></text>
<rect x="890.5" y="438.35" width="59" height="28.5" fill="#6699c9" stroke="#222" stroke-width="1"/><text x="957.0" y="461.20" class="l">Hydropower stations σ<tspan dy="6.5" font-size="17">3</tspan></text>
<rect x="379.8" y="477.15" width="59" height="28.5" fill="#9372c7" stroke="#222" stroke-width="1"/><text x="446.3" y="500.00" class="l">Hydropower stations σ<tspan dy="6.5" font-size="17">4</tspan></text>
<rect x="782.3" y="477.15" width="59" height="28.5" fill="#44698d" stroke="#222" stroke-width="1"/><text x="848.8" y="500.00" class="l">Hydropower stations σ<tspan dy="6.5" font-size="17">5</tspan></text>
</svg>
</body></html>
